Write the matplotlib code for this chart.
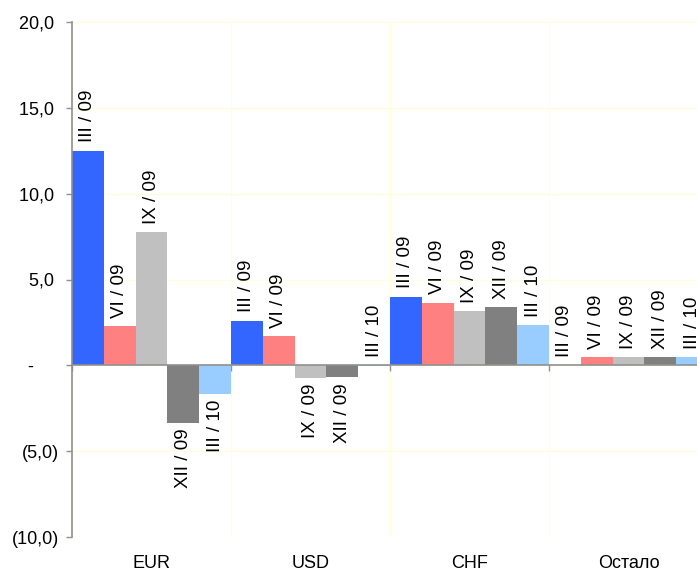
import matplotlib
matplotlib.use("Agg")
import matplotlib.pyplot as plt
import numpy as np

plt.rcParams['font.family'] = ['Liberation Sans', 'DejaVu Sans']

categories = ["EUR", "USD", "CHF", "Остало"]
periods = ["III / 09", "VI / 09", "IX / 09", "XII / 09", "III / 10"]
values = {
    "III / 09": [12.5, 2.6, 4.0, 0.0],
    "VI / 09": [2.3, 1.7, 3.65, 0.47],
    "IX / 09": [7.75, -0.75, 3.15, 0.47],
    "XII / 09": [-3.35, -0.7, 3.4, 0.47],
    "III / 10": [-1.65, -0.06, 2.33, 0.47],
}
colors = ["#3366FF", "#FF8080", "#C0C0C0", "#808080", "#99CCFF"]
yticks = [-10, -5, 0, 5, 10, 15, 20]
yticklabels = ["(10,0)", "(5,0)", "-     ", "5,0 ", "10,0 ", "15,0 ", "20,0 "]

fig = plt.figure(figsize=(6.97, 5.69), dpi=100)
ax = fig.add_axes([72/697, 32/569, 636/697, 515/569])

x = np.arange(len(categories))
n = len(periods)
w = 1.0 / n
grid_c = "#FFFFD8"
for yv in yticks:
    ax.axhline(yv, color=grid_c, lw=0.8, zorder=0)
for b in np.arange(len(categories) + 1) - 0.5:
    ax.axvline(b, color=grid_c, lw=0.8, zorder=0)

for i, p in enumerate(periods):
    pos = x - 0.5 + w / 2 + i * w
    vals = values[p]
    ax.bar(pos, vals, width=w, color=colors[i], zorder=2, linewidth=0)
    for xp, v in zip(pos, vals):
        if v > -0.2:
            ax.annotate(p, (xp, max(v, 0)), xytext=(0, 6), textcoords="offset points",
                        rotation=90, ha="center", va="bottom", fontsize=13.5,
                        zorder=3, annotation_clip=False)
        else:
            ax.annotate(p, (xp, v), xytext=(0, -4), textcoords="offset points",
                        rotation=90, ha="center", va="top", fontsize=13.5,
                        zorder=3, annotation_clip=False)

ax.axhline(0, color="#909090", lw=1.2, zorder=4)
ax.set_xlim(-0.5, len(categories) - 0.5)
ax.set_ylim(-10, 20)
ax.set_yticks(yticks)
ax.set_yticklabels(yticklabels, fontsize=13)
ax.tick_params(axis="y", direction="out", length=4, width=1, color="#909090", pad=5.5)
ax.set_xticks(x)
ax.set_xticklabels(categories, fontsize=13)
ax.tick_params(axis="x", length=0, pad=13)
for s in ["top", "right", "bottom"]:
    ax.spines[s].set_visible(False)
ax.spines["left"].set_color("#909090")
ax.spines["left"].set_linewidth(1.2)

ymin, ymax = ax.get_ylim()
sec = ax.secondary_xaxis((0 - ymin) / (ymax - ymin))
sec.set_xticks(np.arange(len(categories) + 1) - 0.5)
sec.set_xticklabels([])
sec.tick_params(direction="out", length=4, color="#909090", width=1)
sec.spines["bottom"].set_visible(False)

fig.savefig("out.png", dpi=100)
